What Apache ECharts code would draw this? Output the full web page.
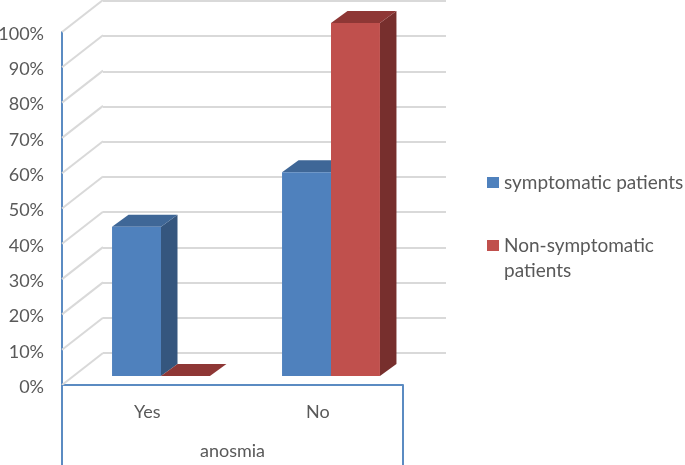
<!DOCTYPE html>
<html><head><meta charset="utf-8">
<style>html,body{margin:0;padding:0;background:#fff}#c{width:685px;height:465px}</style>
<script src="https://cdn.jsdelivr.net/npm/echarts@6/dist/echarts.min.js"></script>
</head><body><div id="c"></div>
<script>
const categories = ['Yes', 'No'];
const symptomatic = [42.3, 57.7];
const nonSymptomatic = [0, 100];
const ticks = [0, 10, 20, 30, 40, 50, 60, 70, 80, 90, 100];
const axisTitle = 'anosmia';
const nameA = 'symptomatic patients';
const nameB = 'Non-symptomatic';
const nameB2 = 'patients';

const FONT = 'Lato';
const TEXT = '#595959';
const GRID = '#D9D9D9';
const AXIS = '#5B8BC2';
const DX = 16.5, DY = -12;

function barRender(sign, front, side, top) {
  return function (params, api) {
    const c = api.coord([api.value(0), api.value(1)]);
    const base = api.coord([api.value(0), 0]);
    const w = api.size([1, 0])[0] * 0.288;
    const x0 = sign < 0 ? c[0] - w : c[0];
    const x1 = x0 + w;
    const y0 = c[1], y1 = base[1];
    const poly = (pts, fill) => ({ type: 'polygon', shape: { points: pts }, style: { fill: fill } });
    return { type: 'group', children: [
      poly([[x1, y0], [x1 + DX, y0 + DY], [x1 + DX, y1 + DY], [x1, y1]], side),
      poly([[x0, y0], [x0 + DX, y0 + DY], [x1 + DX, y0 + DY], [x1, y0]], top),
      poly([[x0, y0], [x1, y0], [x1, y1], [x0, y1]], front)
    ]};
  };
}

const chart = echarts.init(document.getElementById('c'), null, { renderer: 'canvas' });
const hiddenY = { type: 'value', min: 0, max: 100, interval: 10, axisLabel: { show: false }, axisLine: { show: false }, axisTick: { show: false } };
const hiddenX = { type: 'category', data: categories, axisLabel: { show: false }, axisLine: { show: false }, axisTick: { show: false }, splitLine: { show: false } };

chart.setOption({
  animation: false,
  backgroundColor: '#fff',
  textStyle: { fontFamily: FONT },
  legend: [
    { data: [nameA], orient: 'vertical', left: 487, top: 173, itemWidth: 12, itemHeight: 11, itemGap: 0, icon: 'rect',
      padding: 0, selectedMode: false, textStyle: { color: TEXT, fontSize: 19, fontFamily: FONT } },
    { data: [nameB], orient: 'vertical', left: 487, top: 208, itemWidth: 12, itemHeight: 11, itemGap: 0, icon: 'rect',
      padding: 0, selectedMode: false, formatter: n => '\n' + n + '\n' + nameB2,
      textStyle: { color: TEXT, fontSize: 19, lineHeight: 25, fontFamily: FONT } }
  ],
  grid: [
    { left: 62, top: 32, width: 341, height: 353, outerBoundsMode: 'none' },
    { left: 103, top: 1, width: 343, height: 352, outerBoundsMode: 'none' },
    { left: 76, top: 23, width: 340, height: 353, outerBoundsMode: 'none' }
  ],
  xAxis: [
    { gridIndex: 0, type: 'category', data: categories,
      axisLine: { show: true, lineStyle: { color: AXIS, width: 2 } }, axisTick: { show: false },
      axisLabel: { color: TEXT, fontSize: 18, fontFamily: FONT, margin: 18 },
      name: axisTitle, nameLocation: 'middle', nameGap: 57,
      nameTextStyle: { color: TEXT, fontSize: 18, fontFamily: FONT } },
    Object.assign({ gridIndex: 1 }, hiddenX),
    Object.assign({ gridIndex: 2 }, hiddenX)
  ],
  yAxis: [
    { gridIndex: 0, type: 'value', min: 0, max: 100, interval: 10,
      axisLine: { show: true, lineStyle: { color: AXIS, width: 2 } }, axisTick: { show: false },
      splitLine: { show: false },
      axisLabel: { margin: 18, formatter: '{a|{value}%}',
        rich: { a: { color: TEXT, fontSize: 18, fontFamily: FONT, padding: [4, 0, 0, 0] } } } },
    Object.assign({ gridIndex: 1, splitLine: { show: true, lineStyle: { color: GRID, width: 2 } } }, hiddenY),
    Object.assign({ gridIndex: 2, splitLine: { show: false } }, hiddenY)
  ],
  series: [
    { type: 'custom', name: 'walls', xAxisIndex: 0, yAxisIndex: 0, silent: true, z: 1,
      data: ticks.map(t => [0, t]),
      renderItem: (p, api) => {
        const c = api.coord([0, api.value(1)]);
        const x = api.coord([0, 0])[0] - api.size([1, 0])[0] / 2;
        return { type: 'line', shape: { x1: x, y1: c[1], x2: x + 41, y2: c[1] - 32 },
          style: { stroke: GRID, lineWidth: 2 } };
      } },
    { type: 'custom', name: 'frame', xAxisIndex: 0, yAxisIndex: 0, silent: true, z: 3,
      data: [[0, 0], [1, 0]],
      renderItem: (p, api) => {
        const c = api.coord([api.value(0), 0]);
        const half = api.size([1, 0])[0] / 2;
        const x = p.dataIndex === 0 ? c[0] - half : c[0] + half;
        return { type: 'line', shape: { x1: x, y1: c[1], x2: x, y2: 465 },
          style: { stroke: AXIS, lineWidth: 2 } };
      } },
    { type: 'custom', name: nameA, xAxisIndex: 2, yAxisIndex: 2, z: 4,
      itemStyle: { color: '#4F81BD' },
      encode: { x: 0, y: 1 },
      data: symptomatic.map((v, i) => [i, v]),
      renderItem: barRender(-1, '#4F81BD', '#35567E', '#3F6797') },
    { type: 'custom', name: nameB, xAxisIndex: 2, yAxisIndex: 2, z: 5,
      itemStyle: { color: '#C0504D' },
      encode: { x: 0, y: 1 },
      data: nonSymptomatic.map((v, i) => [i, v]),
      renderItem: barRender(1, '#C0504D', '#772F2D', '#8E3735') }
  ]
});
</script></body></html>
